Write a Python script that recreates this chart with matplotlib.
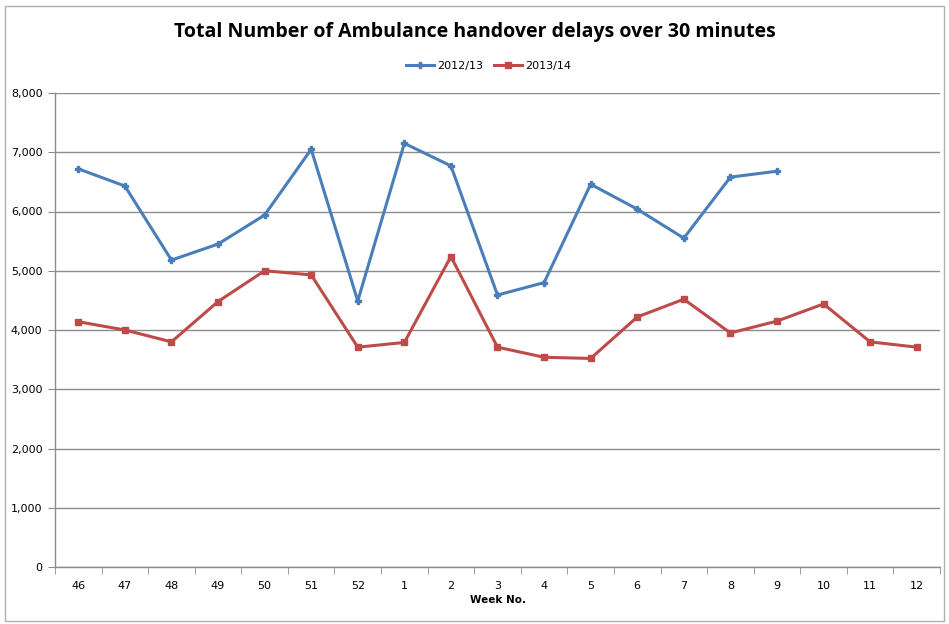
"""Ambulance handover delays over 30 minutes, 2012/13 vs 2013/14."""

import matplotlib
matplotlib.use("Agg")
import matplotlib.pyplot as plt
import numpy as np

weeks = ["46", "47", "48", "49", "50", "51", "52", "1", "2", "3",
         "4", "5", "6", "7", "8", "9", "10", "11", "12"]
delays_1213 = [6720, 6430, 5180, 5450, 5940, 7050, 4490, 7150, 6770, 4590,
               4800, 6460, 6040, 5550, 6580, 6680]
delays_1314 = [4140, 4000, 3800, 4480, 5000, 4930, 3710, 3790, 5240, 3710,
               3540, 3520, 4220, 4520, 3950, 4150, 4440, 3800, 3710]

BLUE = "#4a7ebb"
RED = "#be4b48"
GRID = "#8c8c8c"

fig = plt.figure(figsize=(9.49, 6.24), dpi=100)
fig.patches.append(plt.Rectangle((0.005, 0.005), 0.99, 0.985, transform=fig.transFigure,
                                 fill=False, edgecolor="#b0b0b0", linewidth=1.0))
ax = fig.add_axes([55 / 949, 57 / 624, 885 / 949, 474 / 624])

x = np.arange(len(weeks))
ax.plot(x[:len(delays_1213)], delays_1213, color=BLUE, linewidth=2.2,
        marker="P", markersize=4, label="2012/13")
ax.plot(x, delays_1314, color=RED, linewidth=2.2,
        marker="s", markersize=4.5, label="2013/14")

ax.set_xlim(-0.5, len(weeks) - 0.5)
ax.set_ylim(0, 8000)
ax.set_yticks(np.arange(0, 8001, 1000))
ax.set_yticklabels([f"{v:,}" for v in range(0, 8001, 1000)], fontsize=8)
ax.set_xticks(x)
ax.set_xticklabels(weeks, fontsize=8)
ax.set_xticks(np.arange(-0.5, len(weeks)), minor=True)
ax.tick_params(axis="x", which="major", length=0, pad=10)
ax.tick_params(axis="x", which="minor", length=5, color=GRID, direction="out")
ax.tick_params(axis="y", length=5, color=GRID, direction="out", pad=4)
ax.yaxis.grid(True, color=GRID, linewidth=1.0)
ax.set_axisbelow(True)
for side in ("top", "right"):
    ax.spines[side].set_visible(False)
for side in ("left", "bottom"):
    ax.spines[side].set_color(GRID)
    ax.spines[side].set_linewidth(1.0)

ax.set_xlabel("Week No.", fontsize=7.5, fontweight="bold", labelpad=3)
fig.text(0.5, 0.949, "Total Number of Ambulance handover delays over 30 minutes",
         ha="center", va="center", fontsize=14, fontweight="bold", family="Open Sans")
fig.legend(loc="center", bbox_to_anchor=(0.515, 0.894), ncol=2, frameon=False,
           fontsize=8, handlelength=2.5, handletextpad=0.3, columnspacing=1.0)

fig.savefig("out.png", dpi=100)
plt.close(fig)
